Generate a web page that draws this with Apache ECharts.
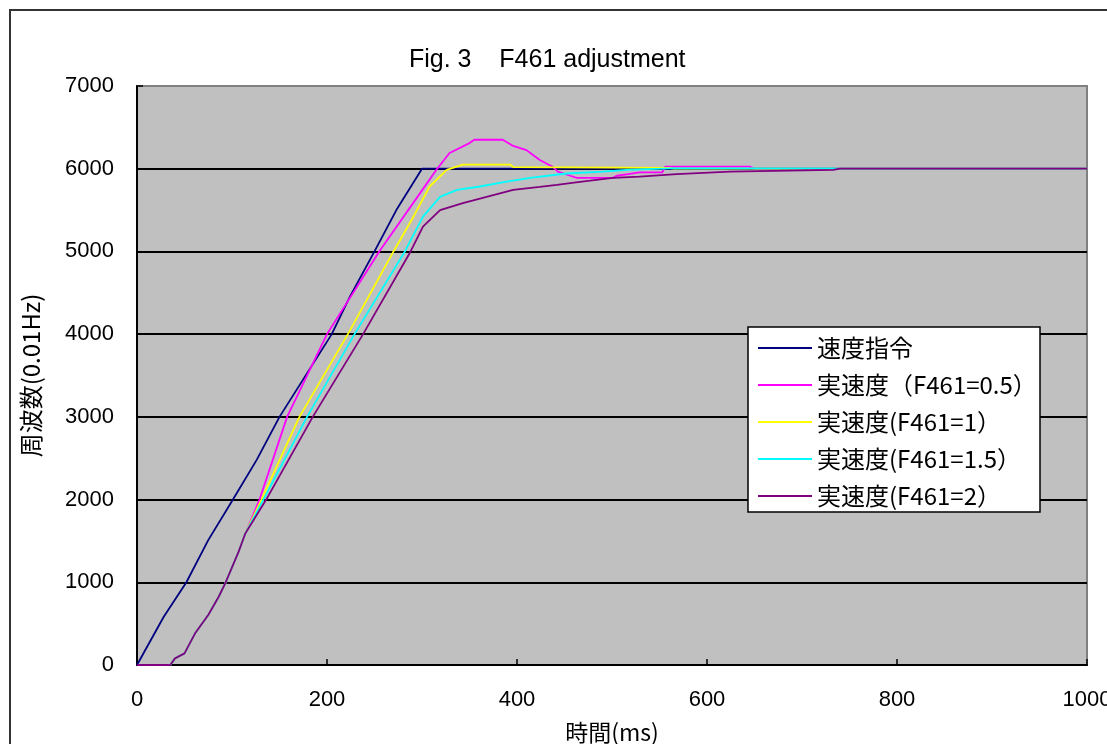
<!DOCTYPE html>
<html>
<head>
<meta charset="utf-8">
<script src="https://cdn.jsdelivr.net/npm/echarts@6/dist/echarts.min.js"></script>
<style>
  html, body { margin: 0; padding: 0; background: #fff; }
  #chart { width: 1107px; height: 744px; }
</style>
</head>
<body>
<div id="chart"></div>
<script>
// values: [time ms, frequency 0.01Hz]
var seriesNames = ['速度指令', '実速度（F461=0.5）', '実速度(F461=1）', '実速度(F461=1.5）', '実速度(F461=2）'];
var seriesColors = ['#000080', '#ff00ff', '#ffff00', '#00ffff', '#800080'];

var cmdData = [[0, 0], [28, 580], [52, 1000], [75, 1510], [101, 2000], [126, 2480], [150, 3000],
    [205, 4000], [224, 4450], [250, 5000], [273, 5500], [300, 6000], [1000, 6000]];

// common start of the four measured curves (they overlap until ~114 ms)
var startData = [[0, 0], [35, 0], [40, 80], [50, 140], [61, 380], [75, 605], [86, 825],
    [93, 990], [107, 1370], [114, 1590]];

var f05Data = [[129, 2000], [158, 3000], [200, 4000], [255, 5000], [291, 5590], [315, 5985],
    [329, 6190], [350, 6310], [355, 6350], [385, 6350], [396, 6275], [410, 6225], [424, 6105],
    [438, 6020], [443, 5965], [456, 5915], [463, 5890], [501, 5890], [505, 5915], [517, 5935],
    [529, 5955], [553, 5955], [556, 6025], [645, 6025], [650, 6000], [1000, 6000]];

var f1Data = [[131, 2000], [171, 3000], [222, 4000], [270, 5000], [291, 5420], [308, 5785],
    [326, 5985], [343, 6050], [393, 6050], [396, 6020], [560, 6010], [565, 6000], [1000, 6000]];

var f15Data = [[133, 2000], [179, 3000], [229, 4000], [282, 5000], [301, 5420], [319, 5660],
    [337, 5745], [361, 5785], [389, 5845], [414, 5890], [443, 5930], [456, 5945], [491, 5965],
    [515, 5985], [561, 6005], [733, 6005], [738, 6000], [1000, 6000]];

var f2Data = [[136, 2000], [185, 3000], [238, 4000], [288, 5000], [301, 5300], [319, 5500],
    [343, 5585], [368, 5660], [396, 5745], [424, 5780], [442, 5805], [458, 5830], [477, 5855],
    [501, 5890], [529, 5905], [568, 5935], [624, 5965], [626, 5980], [733, 5985], [740, 6000],
    [1000, 6000]];

var xTicks = [0, 200, 400, 600, 800, 1000];
var yTicks = [0, 1000, 2000, 3000, 4000, 5000, 6000, 7000];

var myChart = echarts.init(document.getElementById('chart'));

var allData = [cmdData, startData.concat(f05Data), startData.concat(f1Data),
    startData.concat(f15Data), startData.concat(f2Data)];

var series = [];
for (var i = 0; i < seriesNames.length; i++) {
    series.push({
        name: seriesNames[i],
        type: 'line',
        data: allData[i],
        symbol: 'none',
        animation: false,
        lineStyle: { color: seriesColors[i], width: 1.8 },
        itemStyle: { color: seriesColors[i] }
    });
}

function plainNumber(v) {
    return String(v);
}

myChart.setOption({
    backgroundColor: '#fff',
    animation: false,
    title: {
        text: 'Fig. 3    F461 adjustment',
        left: 404,
        top: 43,
        textStyle: { fontSize: 25, fontWeight: 'normal', color: '#000', fontFamily: 'Liberation Sans' }
    },
    grid: {
        left: 137, right: 20, top: 86, bottom: 79,
        outerBoundsMode: 'none',
        containLabel: false,
        show: true,
        backgroundColor: '#c0c0c0',
        borderColor: '#808080',
        borderWidth: 2
    },
    legend: {
        data: seriesNames,
        orient: 'vertical',
        left: 758,
        top: 333,
        padding: 0,
        itemGap: 7,
        itemWidth: 54,
        itemHeight: 2,
        icon: 'rect',
        z: 20,
        itemStyle: { borderWidth: 0 },
        textStyle: { fontSize: 24, lineHeight: 30, color: '#000', fontFamily: 'Noto Sans CJK JP' }
    },
    graphic: [
        {
            type: 'rect',
            z: 10,
            shape: { x: 748, y: 327, width: 292, height: 185 },
            style: { fill: '#fff', stroke: '#000', lineWidth: 1.5 }
        },
        {
            type: 'rect',
            z: 10,
            shape: { x: 10, y: 10, width: 1300, height: 900 },
            style: { fill: null, stroke: '#333', lineWidth: 2 }
        }
    ],
    xAxis: {
        type: 'value',
        min: xTicks[0],
        max: xTicks[xTicks.length - 1],
        interval: 200,
        name: '時間(ms)',
        nameLocation: 'middle',
        nameGap: 56,
        nameTextStyle: { fontSize: 23, color: '#000', fontFamily: 'Noto Sans CJK JP' },
        axisLine: { show: true, lineStyle: { color: '#000', width: 2 } },
        axisTick: { show: true, inside: true, length: 6, lineStyle: { color: '#000', width: 1.5 } },
        axisLabel: { fontSize: 22, color: '#000', margin: 24, fontFamily: 'Liberation Sans', formatter: plainNumber },
        splitLine: { show: false }
    },
    yAxis: {
        type: 'value',
        min: yTicks[0],
        max: yTicks[yTicks.length - 1],
        interval: 1000,
        name: '周波数(0.01Hz)',
        nameLocation: 'middle',
        nameGap: 94,
        nameRotate: 90,
        nameTextStyle: { fontSize: 24, color: '#000', fontFamily: 'Noto Sans CJK JP' },
        axisLine: { show: true, lineStyle: { color: '#000', width: 2 } },
        axisTick: { show: true, inside: true, length: 6, lineStyle: { color: '#000', width: 1.5 } },
        axisLabel: { fontSize: 22, color: '#000', margin: 23, fontFamily: 'Liberation Sans', formatter: plainNumber },
        splitLine: { show: true, showMinLine: false, showMaxLine: false, lineStyle: { color: '#000', width: 2 } }
    },
    series: series
});
</script>
</body>
</html>
